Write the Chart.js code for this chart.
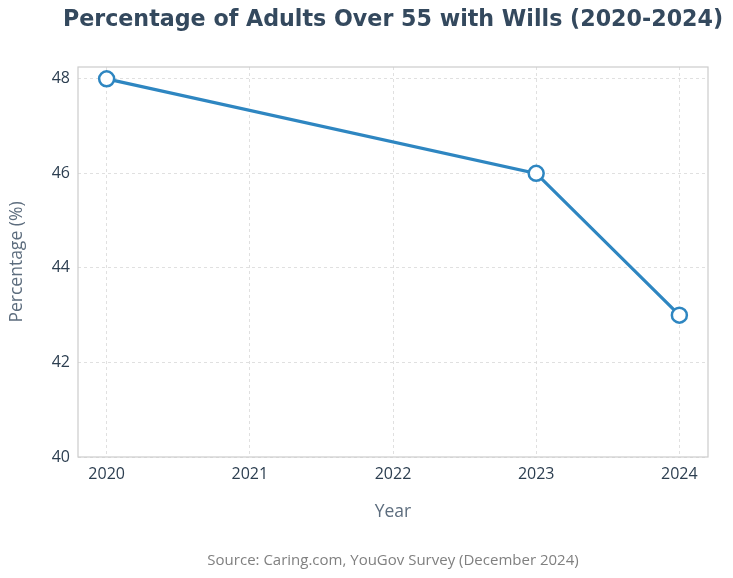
<!DOCTYPE html>
<html>
<head>
<meta charset="utf-8">
<script src="https://cdn.jsdelivr.net/npm/chart.js@4"></script>
<style>
  html, body { margin: 0; padding: 0; background: #fff; }
  #wrap { width: 733px; height: 578px; }
</style>
</head>
<body>
<div id="wrap"><canvas id="chart"></canvas></div>
<script>
// data
const years = [2020, 2023, 2024];
const percentages = [48, 46, 43];
const yearTicks = [2020, 2021, 2022, 2023, 2024];

const titleText = "Percentage of Adults Over 55 with Wills (2020-2024)";
const blue = "#2E86C1";

// box round the plot area (all four spines) + title centred on the plot
const frame = {
  id: "frame",
  afterDraw(chart) {
    const a = chart.chartArea;
    const ctx = chart.ctx;
    ctx.save();
    ctx.strokeStyle = "#cccccc";
    ctx.lineWidth = 1.2;
    ctx.strokeRect(a.left, a.top, a.right - a.left, a.bottom - a.top);

    ctx.fillStyle = "#34495E";
    ctx.font = "bold 22.2px 'DejaVu Sans'";
    ctx.textAlign = "center";
    ctx.textBaseline = "middle";
    ctx.fillText(titleText, (a.left + a.right) / 2, 20);
    ctx.restore();
  }
};

new Chart(document.getElementById("chart"), {
  type: "line",
  data: {
    datasets: [{
      data: years.map((y, i) => ({ x: y, y: percentages[i] })),
      borderColor: blue,
      borderWidth: 3.2,
      pointRadius: 7.5,
      pointHoverRadius: 7.5,
      pointBorderWidth: 2.5,
      pointBackgroundColor: "#ffffff",
      pointBorderColor: blue,
      tension: 0
    }]
  },
  options: {
    responsive: true,
    maintainAspectRatio: false,
    animation: false,
    layout: { padding: { left: 0, right: 25, top: 67, bottom: 0 } },
    plugins: {
      legend: { display: false },
      tooltip: { enabled: false },
      title: { display: false },
      subtitle: {
        display: true,
        position: "bottom",
        fullSize: false,
        text: "Source: Caring.com, YouGov Survey (December 2024)",
        color: "#808080",
        font: { family: "Open Sans", size: 15 },
        padding: { top: 19, bottom: 8 }
      }
    },
    scales: {
      x: {
        type: "linear",
        min: 2019.8,
        max: 2024.2,
        afterBuildTicks: s => { s.ticks = yearTicks.map(v => ({ value: v })); },
        afterFit: s => { s.height = 76; },
        ticks: {
          includeBounds: false,
          padding: 8,
          color: "#2C3E50",
          font: { family: "Open Sans", size: 16 },
          callback: v => String(v)
        },
        grid: { color: "#d8d8d8", lineWidth: 0.8, drawTicks: false },
        border: { display: false, dash: [3, 3] },
        title: {
          display: true,
          text: "Year",
          color: "#5D6D7E",
          font: { family: "Open Sans", size: 17.5 },
          padding: { top: 0, bottom: 10 }
        }
      },
      y: {
        min: 40,
        max: 48.25,
        afterFit: s => { s.width = 78; },
        ticks: {
          stepSize: 2,
          includeBounds: false,
          padding: 8,
          color: "#2C3E50",
          font: { family: "Open Sans", size: 16 },
          callback: v => String(v)
        },
        grid: { color: "#d8d8d8", lineWidth: 0.8, drawTicks: false },
        border: { display: false, dash: [3, 3] },
        title: {
          display: true,
          text: "Percentage (%)",
          color: "#5D6D7E",
          font: { family: "Open Sans", size: 17.5 },
          padding: { top: 7, bottom: 0 }
        }
      }
    }
  },
  plugins: [frame]
});
</script>
</body>
</html>
